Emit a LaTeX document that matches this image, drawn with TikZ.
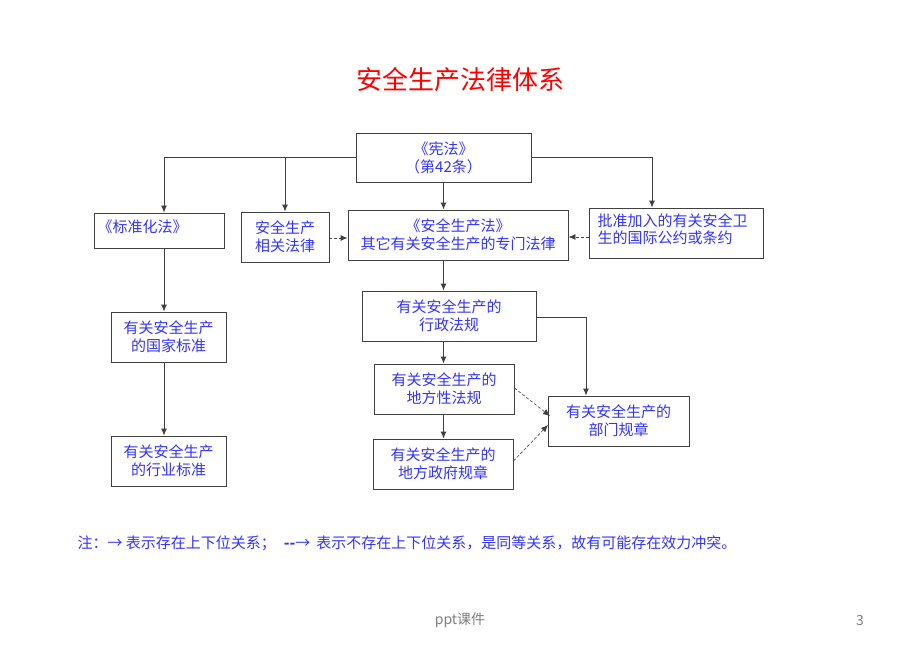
\documentclass[tikz,border=0pt]{standalone}
\usepackage{fontspec}
\setmainfont{Liberation Serif}
\newfontfamily\cjk{Noto Sans CJK SC}
\usetikzlibrary{arrows.meta}
\definecolor{txtblue}{HTML}{3333FF}
\definecolor{linegray}{HTML}{404040}
\tikzset{
  box/.style={draw=linegray, line width=0.9pt, inner sep=0pt, text=txtblue, font=\cjk\fontsize{15}{18}\selectfont, align=center},
  conn/.style={draw=linegray, line width=0.9pt, -{Latex[length=7pt,width=6pt]}},
  dconn/.style={conn, dashed, dash pattern=on 3pt off 2pt},
}
\begin{document}
\begin{tikzpicture}[x=1pt,y=-1pt]
\useasboundingbox[fill=white] (0,0) rectangle (920,651);
\node[text=red, font=\cjk\fontsize{26}{30}\selectfont] (title) at (460,80) {安全生产法律体系};

\node[box, minimum width=175pt, minimum height=49pt] (xf) at (443.5,157.5) {《宪法》\\（第42条）};
\node[box, minimum width=130pt, minimum height=35pt] (bz) at (159,230.5) {};
\node[text=txtblue, font=\cjk\fontsize{15}{18}\selectfont, anchor=west] (bzt) at (94,227) {《标准化法》};
\node[box, minimum width=88pt, minimum height=50pt] (xg) at (285,237) {安全生产\\相关法律};
\node[box, minimum width=220pt, minimum height=50pt] (aq) at (458,235) {《安全生产法》\\其它有关安全生产的专门法律};
\node[box, minimum width=174pt, minimum height=50pt, align=left] (pz) at (676,233) {};
\node[text=txtblue, font=\cjk\fontsize{15}{17}\selectfont, align=left, anchor=west] (pzt) at (594,229) {批准加入的有关安全卫\\生的国际公约或条约};
\node[box, minimum width=174pt, minimum height=50pt] (xz) at (449,316) {有关安全生产的\\行政法规};
\node[box, minimum width=140pt, minimum height=50pt] (df) at (444,389) {有关安全生产的\\地方性法规};
\node[box, minimum width=140pt, minimum height=50pt] (dz) at (443,464) {有关安全生产的\\地方政府规章};
\node[box, minimum width=141pt, minimum height=50pt] (bm) at (618.5,421) {有关安全生产的\\部门规章};
\node[box, minimum width=115pt, minimum height=50pt] (gj) at (168.5,337) {有关安全生产\\的国家标准};
\node[box, minimum width=115pt, minimum height=50pt] (hy) at (168.5,461) {有关安全生产\\的行业标准};

% connectors
\coordinate (lx) at (164,0);
\draw[conn] (xf.west) -| (lx |- bz.north);
\draw[conn] (xf.west -| xg.north) -- (xg.north);
\coordinate (rx) at (652,0);
\draw[conn] (xf.east) -| (rx |- pz.north);
\draw[conn] (xf.south) -- (xf.south |- aq.north);
\draw[dconn] (xg.east |- 0,238) -- (aq.west |- 0,238);
\draw[dconn] (pz.west |- 0,237) -- (aq.east |- 0,237);
\draw[conn] (xf.south |- aq.south) -- (xf.south |- xz.north);
\draw[conn] (lx |- bz.south) -- (lx |- gj.north);
\draw[conn] (lx |- gj.south) -- (lx |- hy.north);
\coordinate (mx) at (586,0);
\draw[conn] (xz.east |- 0,317) -| (mx |- bm.north);
\draw[conn] (xf.south |- xz.south) -- (xf.south |- df.north);
\draw[conn] (xf.south |- df.south) -- (xf.south |- dz.north);
\coordinate (bm1) at (550,416);
\coordinate (bm2) at (548,425);
\draw[dconn, line width=0.6pt] (df.east |- 0,388) -- (bm1);
\draw[dconn, line width=0.6pt] (dz.east |- 0,461) -- (bm2);

\node[text=txtblue, font=\cjk\fontsize{15}{18}\selectfont, anchor=west] (note) at (74,543) {注：→ 表示存在上下位关系；\hspace{8pt}\textbf{--}→\hspace{6pt}表示不存在上下位关系，是同等关系，故有可能存在效力冲突。};

\node[text=gray, font=\cjk\fontsize{14}{16}\selectfont] (ft) at (460,620) {ppt课件};
\node[text=gray, font=\cjk\fontsize{14}{16}\selectfont] (pg) at (860,620) {3};
\end{tikzpicture}
\end{document}
